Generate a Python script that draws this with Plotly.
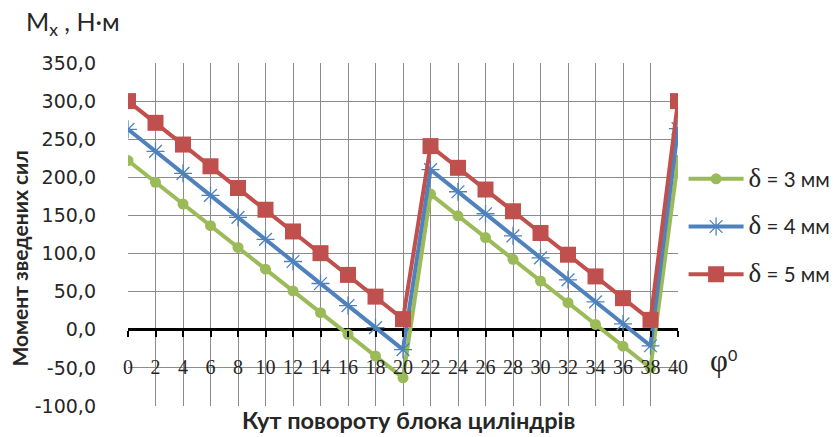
import plotly.graph_objects as go

phi = list(range(0, 41, 2))
m3 = [222, 193.5, 165, 136.5, 108, 79.5, 51, 22.5, -6, -34.5, -63,
      178, 149.5, 121, 92.5, 64, 35.5, 7, -21.5, -50, 222]
m4 = [263, 234.1, 205.2, 176.3, 147.4, 118.5, 89.6, 60.7, 31.8, 2.9, -26,
      210, 181.1, 152.2, 123.3, 94.4, 65.5, 36.6, 7.7, -21, 264]
m5 = [300, 271.5, 243, 214.5, 186, 157.5, 129, 100.5, 72, 43.5, 14,
      241, 212.5, 184, 155.5, 127, 98.5, 70, 41.5, 13, 300]
names = ["3", "4", "5"]
y_ticks = [-100, -50, 0, 50, 100, 150, 200, 250, 300, 350]
y_labels = [f"{v:.1f}".replace(".", ",") for v in y_ticks]
x_ticks = list(range(0, 41, 2))

FONT = "Lato"
TXT = "#262626"
GREEN, BLUE, RED = "#9bbb59", "#4f81bd", "#c0504d"

def lname(n):
    return ('<span style="font-family:Liberation Serif;font-size:27px">δ</span>'
            f' = {n} мм')

fig = go.Figure()
fig.add_trace(go.Scatter(x=phi, y=m3, mode="lines+markers", name=lname(names[0]),
                         line=dict(color=GREEN, width=4),
                         marker=dict(symbol="circle", size=11, color=GREEN),
                         legendgroup="a"))
fig.add_trace(go.Scatter(x=phi, y=m4, mode="lines+markers", name=lname(names[1]),
                         line=dict(color=BLUE, width=4),
                         marker=dict(symbol="asterisk-open", size=15,
                                     line=dict(color="#7ea6dc", width=1.3)),
                         legendgroup="b"))
fig.add_trace(go.Scatter(x=phi, y=m5, mode="lines+markers", name=lname(names[2]),
                         line=dict(color=RED, width=4),
                         marker=dict(symbol="square", size=16, color=RED),
                         legendgroup="c"))

y0_frac = (0 - y_ticks[0]) / (y_ticks[-1] - y_ticks[0])

fig.update_layout(
    width=832, height=429,
    margin=dict(l=120, r=162, t=55, b=31),
    paper_bgcolor="white", plot_bgcolor="white",
    font=dict(family=FONT, size=17, color=TXT),
    showlegend=True,
    legend=dict(xref="container", yref="container", x=0.812, xanchor="left",
                y=0.648, yanchor="top",
                font=dict(size=20.5, color=TXT),
                tracegroupgap=18, itemwidth=55, bgcolor="rgba(0,0,0,0)"),
    xaxis=dict(range=[0, 40], tickvals=x_ticks, ticktext=[str(v) for v in x_ticks],
               showgrid=True, gridcolor="#8c8c8c", gridwidth=1,
               anchor="free", position=y0_frac, automargin=False,
               showline=False, zeroline=False,
               ticks="outside", ticklen=6, tickwidth=2, tickcolor="black",
               tickfont=dict(family="Liberation Serif", size=20, color=TXT),
               ticklabelstandoff=13),
    yaxis=dict(range=[-100, 350], tickvals=y_ticks, ticktext=y_labels,
               showgrid=True, gridcolor="#8c8c8c", gridwidth=1,
               zeroline=True, zerolinecolor="black", zerolinewidth=3,
               showline=False, ticks="", ticklabelstandoff=31, automargin=False,
               tickfont=dict(family="DejaVu Sans", size=19, color=TXT)),
)

fig.add_annotation(text="M<sub>x</sub> , Н·м", xref="paper", yref="paper",
                   x=0, xshift=-104, y=1.0, yshift=40, xanchor="left", yanchor="middle",
                   showarrow=False, font=dict(size=25, color=TXT))
fig.add_annotation(text="<b>Момент зведених сил</b>", xref="paper", yref="paper",
                   x=0, xshift=-108, y=0.43, textangle=-90, showarrow=False,
                   xanchor="center", yanchor="middle",
                   font=dict(size=21, color=TXT))
fig.add_annotation(text="<b>Кут повороту блока циліндрів</b>", xref="paper", yref="paper",
                   x=0.51, y=0, yshift=-14, showarrow=False,
                   xanchor="center", yanchor="middle",
                   font=dict(size=23.5, color=TXT))
fig.add_annotation(text='<span style="font-family:Liberation Serif;font-size:31px">φ</span><sup>0</sup>',
                   xref="paper", yref="y", x=1.0, xshift=30, y=-40,
                   xanchor="left", yanchor="middle",
                   showarrow=False, font=dict(size=23, color=TXT))

fig.write_html("out.html")
